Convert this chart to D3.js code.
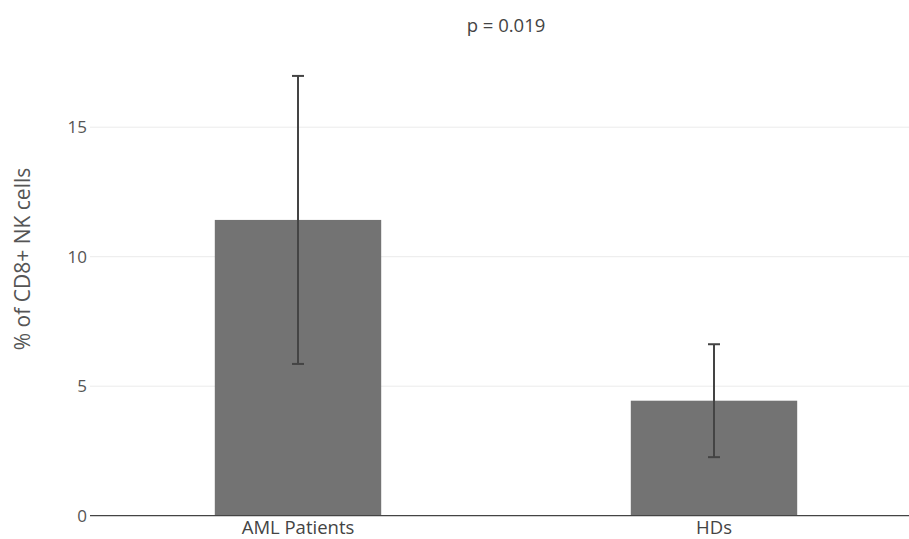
<!DOCTYPE html>
<html>
<head>
<meta charset="utf-8">
<script src="https://cdn.jsdelivr.net/npm/d3@7"></script>
<style>
  html, body { margin: 0; padding: 0; background: #fff; }
  svg { display: block; }
  text { font-family: "Open Sans", "Noto Sans", sans-serif; }
</style>
</head>
<body>
<script>
const categories = ["AML Patients", "HDs"];
const means = [11.42, 4.44];
const errors = [5.56, 2.18];
const yTicks = [0, 5, 10, 15];
const titleText = "p = 0.019";
const yLabel = "% of CD8+ NK cells";

const W = 909, H = 539;
const svg = d3.select("body").append("svg").attr("width", W).attr("height", H);

const x = d3.scaleBand().domain(categories).range([90, 922]).paddingInner(0.6).paddingOuter(0.3);
const y = d3.scaleLinear().domain([0, 15]).range([515.7, 127.2]);

// gridlines
svg.append("g").selectAll("line").data(yTicks.filter(d => d !== 0)).join("line")
  .attr("x1", 90).attr("x2", W)
  .attr("y1", d => y(d)).attr("y2", d => y(d))
  .attr("stroke", "#ebebeb").attr("stroke-width", 1);

// bars
svg.append("g").selectAll("rect").data(categories).join("rect")
  .attr("x", d => x(d)).attr("width", x.bandwidth())
  .attr("y", (d, i) => y(means[i])).attr("height", (d, i) => y(0) - y(means[i]))
  .attr("fill", "#737373");

// error bars
const eb = svg.append("g").attr("stroke", "#444").attr("stroke-width", 2);
categories.forEach((c, i) => {
  const cx = x(c) + x.bandwidth() / 2;
  const hi = y(means[i] + errors[i]), lo = y(means[i] - errors[i]);
  eb.append("line").attr("x1", cx).attr("x2", cx).attr("y1", hi).attr("y2", lo);
  eb.append("line").attr("x1", cx - 6).attr("x2", cx + 6).attr("y1", hi).attr("y2", hi);
  eb.append("line").attr("x1", cx - 6).attr("x2", cx + 6).attr("y1", lo).attr("y2", lo);
});

// zero line
svg.append("line").attr("x1", 90).attr("x2", W).attr("y1", y(0)).attr("y2", y(0))
  .attr("stroke", "#444").attr("stroke-width", 1.2);

// y axis ticks
const yAxis = d3.axisLeft(y).tickValues(yTicks).tickSize(0).tickPadding(3).tickFormat(d3.format("d"));
const gy = svg.append("g").attr("transform", "translate(90,0)").call(yAxis);
gy.select(".domain").remove();
gy.selectAll("text").attr("fill", "#555").style("font-size", "17px")
  .style("font-family", "'Open Sans', sans-serif");

// x axis
const xAxis = d3.axisBottom(x).tickSize(0).tickPadding(5);
const gx = svg.append("g").attr("transform", `translate(0,${y(0)})`).call(xAxis);
gx.select(".domain").remove();
gx.selectAll("text").attr("fill", "#444").style("font-size", "18.5px")
  .style("font-family", "'Open Sans', sans-serif");

// y label
svg.append("text")
  .attr("transform", `translate(22,${259}) rotate(-90)`)
  .attr("text-anchor", "middle").attr("dominant-baseline", "central")
  .attr("fill", "#555").style("font-size", "21px")
  .text(yLabel);

// title
svg.append("text").attr("x", 506).attr("y", 32).attr("text-anchor", "middle")
  .attr("fill", "#444").style("font-size", "18.5px").text(titleText);
</script>
</body>
</html>
